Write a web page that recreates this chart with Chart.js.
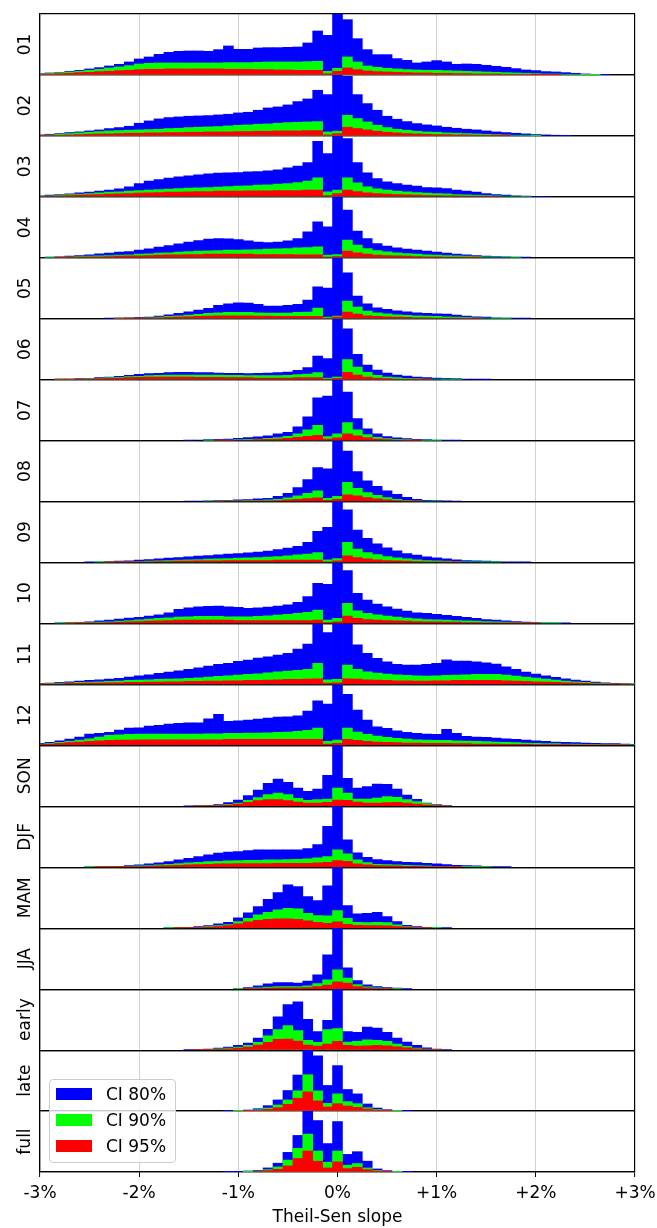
<!DOCTYPE html>
<html lang="en">
<head>
<meta charset="UTF-8">
<title>Theil-Sen slope histograms</title>
<script src="https://cdn.jsdelivr.net/npm/chart.js"></script>
<style>
  body { margin: 0; background: #fff; font-family: "DejaVu Sans", sans-serif; }
  #wrap { position: relative; width: 657px; height: 1228px; }
  #chart { position: absolute; left: 0; top: 0; }
  #legend { position: absolute; left: 49px; top: 1079px; width: 125px; height: 82px;
            background: rgba(255,255,255,0.8); border: 1px solid #cccccc; border-radius: 4px; }
  .patch { position: absolute; left: 6px; width: 36px; height: 12px; }
  .lbl { position: absolute; left: 56px; font-size: 17px; line-height: 20px; color: #000; white-space: nowrap; }
</style>
</head>
<body>
<div id="wrap">
  <canvas id="chart" width="657" height="1228"></canvas>
  <div id="legend"></div>
</div>
<script>
// bin centres (%), tick labels, panel names
const bins = [
  -3.0, -2.9, -2.8, -2.7, -2.6, -2.5, -2.4, -2.3, -2.2, -2.1,
  -2.0, -1.9, -1.8, -1.7, -1.6, -1.5, -1.4, -1.3, -1.2, -1.1,
  -1.0, -0.9, -0.8, -0.7, -0.6, -0.5, -0.4, -0.3, -0.2, -0.1,
  0.0, 0.1, 0.2, 0.3, 0.4, 0.5, 0.6, 0.7, 0.8, 0.9,
  1.0, 1.1, 1.2, 1.3, 1.4, 1.5, 1.6, 1.7, 1.8, 1.9,
  2.0, 2.1, 2.2, 2.3, 2.4, 2.5, 2.6, 2.7, 2.8, 2.9,
  3.0];
const xTickLabels = ['-3%', '-2%', '-1%', '0%', '+1%', '+2%', '+3%'];
const panelNames = ['01', '02', '03', '04', '05', '06', '07', '08', '09', '10', '11', '12',
                    'SON', 'DJF', 'MAM', 'JJA', 'early', 'late', 'full'];
const seriesNames = ['CI 80%', 'CI 90%', 'CI 95%'];
const seriesColors = ['#0000ff', '#00ff00', '#ff0000'];

// counts per bin (b = CI 80%, g = CI 90%, r = CI 95%)
const b01 = [4,6,8,11,14,18,22,27,32,39, 48,54,62,68,71,72,72,71,76,87, 77,77,81,82,82,83,84,96,132,119,
  183,166,109,76,61,61,49,44,36,39, 43,39,32,33,32,29,26,23,19,15, 13,10,9,7,5,3,2,1,0,0, 0];
const g01 = [3,5,7,9,11,14,17,21,24,28, 33,35,36,36,36,36,36,36,36,37, 37,37,38,39,39,39,39,40,41,11,
  20,54,39,27,23,20,18,16,15,14, 14,13,12,11,10,9,8,7,6,5, 4,3,3,2,2,1,1,0,0,0, 0];
const r01 = [2,3,4,5,7,8,10,11,13,14, 16,17,17,18,18,18,18,18,18,17, 17,17,16,16,15,15,14,14,14,4,
  11,21,16,12,10,9,8,7,6,6, 5,5,4,4,3,3,3,2,2,2, 1,1,1,0,0,0,0,0,0,0, 0];

const b02 = [3,5,7,10,12,15,18,22,25,29, 38,45,51,55,57,59,60,61,63,65, 69,71,77,84,87,93,103,111,137,124,
  183,179,124,97,77,59,50,43,37,33, 30,26,23,20,18,15,12,10,8,6, 4,3,2,1,0,0,0,0,0,0, 0];
const g02 = [2,3,5,7,9,11,13,15,16,17, 18,19,20,22,23,25,26,27,28,30, 32,33,35,36,38,40,41,42,43,12,
  14,62,52,42,32,25,20,17,14,12, 11,9,8,7,6,5,4,3,2,2, 1,0,0,0,0,0,0,0,0,0, 0];
const r02 = [1,2,2,3,4,5,6,6,7,8, 8,9,9,10,10,11,11,12,12,12, 13,13,14,14,15,15,15,16,16,3,
  7,26,22,18,14,11,9,7,6,5, 4,4,3,3,2,2,1,1,0,0, 0,0,0,0,0,0,0,0,0,0, 0];

const b03 = [3,5,7,9,12,14,17,20,24,30, 40,47,52,56,60,63,66,69,71,72, 73,75,76,78,81,87,92,103,167,130,
  183,175,103,72,55,45,40,35,32,28, 27,25,20,17,14,10,7,5,3,2, 1,1,0,0,0,0,0,0,0,0, 0];
const g03 = [2,3,5,7,8,10,12,14,15,17, 19,20,22,23,25,26,27,28,29,31, 32,33,35,36,38,40,43,47,57,15,
  20,57,42,30,24,20,17,15,13,11, 10,9,7,6,5,4,3,2,2,1, 0,0,0,0,0,0,0,0,0,0, 0];
const r03 = [1,2,3,4,5,6,7,8,9,10, 11,12,13,14,14,15,16,16,17,17, 17,18,18,18,19,19,19,20,20,4,
  10,20,16,12,10,8,7,6,5,4, 4,3,3,2,2,1,1,0,0,0, 0,0,0,0,0,0,0,0,0,0, 0];

const b04 = [0,1,3,5,7,9,12,14,17,19, 23,27,32,37,42,47,52,56,58,57, 55,51,47,46,47,51,58,78,108,93,
  183,143,80,58,43,35,30,26,23,20, 17,14,11,9,7,5,4,3,2,1, 0,0,0,0,0,0,0,0,0,0, 0];
const g04 = [0,1,2,3,4,5,6,7,8,9, 11,12,14,15,17,19,20,21,22,23, 23,24,25,26,27,28,30,31,33,8,
  10,53,38,28,22,18,15,13,11,9, 8,7,6,5,4,3,2,2,1,0, 0,0,0,0,0,0,0,0,0,0, 0];
const r04 = [0,0,1,1,2,3,3,4,5,6, 6,7,8,9,9,10,10,11,11,11, 11,11,10,10,10,10,9,9,9,2,
  4,20,15,11,8,7,6,5,4,3, 3,2,2,1,1,0,0,0,0,0, 0,0,0,0,0,0,0,0,0,0, 0];

const b05 = [0,0,0,0,0,0,0,1,2,3, 4,5,8,12,16,21,26,31,40,45, 48,47,43,38,38,40,43,56,96,92,
  183,138,68,45,33,28,24,21,18,16, 15,14,11,8,6,5,3,2,1,1, 0,0,0,0,0,0,0,0,0,0, 0];
const g05 = [0,0,0,0,0,0,0,0,1,2, 2,3,5,7,9,11,13,16,18,19, 19,19,18,17,17,17,19,20,32,5,
  8,53,35,23,18,15,12,10,9,8, 7,6,5,4,3,2,1,1,0,0, 0,0,0,0,0,0,0,0,0,0, 0];
const r05 = [0,0,0,0,0,0,0,0,1,1, 1,2,3,4,5,6,7,8,9,9, 9,9,8,8,7,7,7,7,7,2,
  5,20,14,9,7,6,5,4,3,3, 2,2,2,1,1,0,0,0,0,0, 0,0,0,0,0,0,0,0,0,0, 0];

const b06 = [0,0,1,2,3,4,6,8,10,13, 16,18,19,21,22,22,21,21,20,19, 19,18,19,20,21,23,28,36,71,63,
  183,153,76,44,29,20,14,11,8,6, 5,4,3,2,2,1,0,0,0,0, 0,0,0,0,0,0,0,0,0,0, 0];
const g06 = [0,0,1,1,2,3,4,6,7,9, 10,12,13,14,14,14,14,14,14,13, 13,12,12,12,12,13,15,17,21,5,
  8,60,38,22,13,8,6,4,3,2, 2,1,1,0,0,0,0,0,0,0, 0,0,0,0,0,0,0,0,0,0, 0];
const r06 = [0,0,1,1,1,2,3,4,5,6, 7,8,8,8,8,8,7,7,7,6, 6,6,5,5,5,5,6,6,6,2,
  4,22,14,8,5,3,2,2,1,1, 0,0,0,0,0,0,0,0,0,0, 0,0,0,0,0,0,0,0,0,0, 0];

const b07 = [0,0,0,0,0,0,0,0,0,0, 0,0,0,0,0,1,2,3,4,5, 7,9,11,14,20,25,41,71,128,133,
  182,145,66,35,20,12,8,6,4,3, 2,1,1,0,0,0,0,0,0,0, 0,0,0,0,0,0,0,0,0,0, 0];
const g07 = [0,0,0,0,0,0,0,0,0,0, 0,0,0,0,0,0,0,1,2,2, 3,4,5,7,9,13,20,32,46,12,
  20,54,32,18,10,6,4,3,2,1, 1,0,0,0,0,0,0,0,0,0, 0,0,0,0,0,0,0,0,0,0, 0];
const r07 = [0,0,0,0,0,0,0,0,0,0, 0,0,0,0,0,0,0,0,1,1, 2,2,3,4,5,7,10,13,16,5,
  8,20,14,9,5,3,2,1,1,0, 0,0,0,0,0,0,0,0,0,0, 0,0,0,0,0,0,0,0,0,0, 0];

const b08 = [0,0,0,0,0,0,0,0,0,0, 0,0,0,0,0,1,1,2,3,4, 5,6,8,10,16,25,42,66,102,98,
  183,152,90,62,46,32,22,13,7,4, 3,2,1,0,0,0,0,0,0,0, 0,0,0,0,0,0,0,0,0,0, 0];
const g08 = [0,0,0,0,0,0,0,0,0,0, 0,0,0,0,0,0,0,1,1,2, 2,3,4,5,7,11,17,25,32,10,
  16,58,40,27,19,12,7,4,2,1, 1,0,0,0,0,0,0,0,0,0, 0,0,0,0,0,0,0,0,0,0, 0];
const r08 = [0,0,0,0,0,0,0,0,0,0, 0,0,0,0,0,0,0,0,1,1, 1,1,2,2,3,5,7,9,11,4,
  7,20,17,12,8,5,3,2,1,0, 0,0,0,0,0,0,0,0,0,0, 0,0,0,0,0,0,0,0,0,0, 0];

const b09 = [0,0,0,0,0,1,2,3,4,5, 7,9,11,13,15,17,19,21,23,25, 27,29,31,34,39,43,48,60,93,105,
  182,157,97,72,56,44,35,27,22,17, 14,11,8,6,5,4,3,2,1,1, 0,0,0,0,0,0,0,0,0,0, 0];
const g09 = [0,0,0,0,0,0,1,1,2,2, 3,4,5,6,7,8,9,10,11,12, 13,14,15,16,18,20,23,25,30,8,
  12,60,40,30,24,18,14,11,8,6, 5,4,3,2,2,1,1,0,0,0, 0,0,0,0,0,0,0,0,0,0, 0];
const r09 = [0,0,0,0,0,0,0,1,1,1, 2,2,3,3,4,4,5,5,5,6, 6,6,6,6,7,7,7,7,7,2,
  5,20,15,11,8,6,5,4,3,2, 2,1,1,0,0,0,0,0,0,0, 0,0,0,0,0,0,0,0,0,0, 0];

const b10 = [0,0,1,2,3,5,8,10,13,16, 18,22,26,32,42,47,50,51,52,50, 48,45,47,49,52,56,63,80,120,117,
  182,158,90,70,58,50,43,37,32,30, 27,24,21,18,15,12,10,8,6,4, 3,2,1,1,0,0,0,0,0,0, 0];
const g10 = [0,0,1,1,2,3,4,5,7,9, 11,13,15,17,19,20,21,21,21,20, 20,20,21,23,25,27,30,33,40,10,
  15,60,38,30,26,22,19,16,14,12, 11,10,9,8,7,6,5,4,3,2, 2,1,1,0,0,0,0,0,0,0, 0];
const r10 = [0,0,0,1,1,2,2,3,4,5, 6,7,8,9,10,10,10,10,10,10, 9,9,9,9,9,9,9,9,10,3,
  5,22,15,12,10,9,8,7,6,5, 5,4,4,3,3,2,2,2,1,1, 1,0,0,0,0,0,0,0,0,0, 0];

const b11 = [3,4,6,8,10,12,14,16,18,22, 26,29,33,37,41,45,50,55,60,63, 69,73,79,83,88,93,106,121,181,156,
  183,181,119,93,78,68,60,58,58,60, 63,74,70,70,68,65,61,53,45,37, 31,26,21,17,13,10,7,5,3,2, 1];
const g11 = [2,3,4,5,6,7,8,9,10,12, 13,14,15,16,17,18,20,22,24,26, 28,30,32,35,38,40,42,45,63,14,
  15,58,45,38,34,31,29,27,26,25, 26,27,28,29,30,30,30,28,25,22, 19,16,13,10,8,6,4,3,2,1, 1];
const r11 = [1,2,2,3,3,4,4,5,5,6, 6,7,7,8,8,9,9,10,10,11, 11,12,12,13,14,15,15,16,17,4,
  5,17,16,14,13,12,11,11,10,10, 11,11,12,12,12,12,12,11,10,9, 8,7,6,5,4,3,2,2,1,1, 0];

const b12 = [6,9,14,19,25,34,36,39,46,52, 53,58,60,64,66,68,68,80,93,72, 74,76,79,82,85,86,89,103,134,124,
  183,153,106,76,56,51,44,39,36,34, 33,48,36,27,25,24,22,20,18,16, 14,12,10,9,8,7,6,5,5,4, 3];
const g12 = [4,6,9,12,16,20,25,30,32,33, 34,34,34,34,34,34,34,35,35,36, 36,37,37,38,39,40,42,45,52,12,
  16,52,40,33,28,24,21,19,17,16, 15,15,14,13,12,11,10,9,8,7, 6,5,5,4,4,3,3,2,2,2, 1];
const r12 = [3,4,6,8,10,12,14,15,16,16, 17,17,17,17,17,17,17,17,17,18, 18,18,18,18,18,18,18,18,18,4,
  6,18,15,12,10,9,8,7,7,6, 6,6,5,5,4,4,4,3,3,3, 2,2,2,2,1,1,1,1,1,1, 0];

const bSON = [0,0,0,0,0,0,0,0,0,0, 0,0,0,0,0,1,2,3,5,11, 19,32,49,69,82,72,55,45,52,93,
  183,84,55,59,67,66,52,34,21,10, 5,2,0,0,0,0,0,0,0,0, 0,0,0,0,0,0,0,0,0,0, 0];
const gSON = [0,0,0,0,0,0,0,0,0,0, 0,0,0,0,0,0,1,2,3,6, 10,18,26,35,40,35,24,18,20,22,
  55,40,22,22,25,29,27,20,14,8, 4,1,0,0,0,0,0,0,0,0, 0,0,0,0,0,0,0,0,0,0, 0];
const rSON = [0,0,0,0,0,0,0,0,0,0, 0,0,0,0,0,0,1,1,2,4, 7,12,17,20,20,17,13,10,10,12,
  19,18,13,10,10,11,12,10,7,4, 2,1,0,0,0,0,0,0,0,0, 0,0,0,0,0,0,0,0,0,0, 0];

const bDJF = [0,0,0,0,0,1,1,2,3,5, 7,10,13,17,22,27,32,37,42,45, 47,50,52,52,52,52,52,56,68,122,
  182,82,43,30,23,20,17,15,14,12, 10,8,6,5,4,3,2,1,0,0, 0,0,0,0,0,0,0,0,0,0, 0];
const gDJF = [0,0,0,0,0,1,1,1,2,3, 4,5,7,9,11,13,15,17,18,19, 20,21,21,22,22,23,24,25,28,32,
  52,40,22,14,9,8,7,6,5,4, 3,3,2,2,1,1,0,0,0,0, 0,0,0,0,0,0,0,0,0,0, 0];
const rDJF = [0,0,0,0,0,0,1,1,1,2, 2,3,4,5,6,7,8,9,10,10, 11,11,11,11,12,12,12,12,13,15,
  20,18,10,7,5,4,4,3,3,2, 2,1,1,0,0,0,0,0,0,0, 0,0,0,0,0,0,0,0,0,0, 0];

const bMAM = [0,0,0,0,0,0,0,0,0,0, 0,0,0,1,2,3,5,8,13,18, 31,46,65,87,107,130,125,95,83,127,
  183,68,43,45,48,35,20,9,5,3, 2,1,0,0,0,0,0,0,0,0, 0,0,0,0,0,0,0,0,0,0, 0];
const gMAM = [0,0,0,0,0,0,0,0,0,0, 0,0,0,1,1,2,3,5,8,11, 20,30,40,48,55,60,58,45,38,37,
  53,30,18,17,18,17,10,5,3,1, 1,0,0,0,0,0,0,0,0,0, 0,0,0,0,0,0,0,0,0,0, 0];
const rMAM = [0,0,0,0,0,0,0,0,0,0, 0,0,0,0,1,1,2,3,5,8, 13,19,24,27,28,28,27,22,18,15,
  19,12,9,8,8,7,5,3,2,1, 0,0,0,0,0,0,0,0,0,0, 0,0,0,0,0,0,0,0,0,0, 0];

const bJJA = [0,0,0,0,0,0,0,0,0,0, 0,0,0,0,0,0,0,0,0,0, 2,5,10,16,20,20,18,24,43,103,
  183,64,26,13,8,5,3,1,0,0, 0,0,0,0,0,0,0,0,0,0, 0,0,0,0,0,0,0,0,0,0, 0];
const gJJA = [0,0,0,0,0,0,0,0,0,0, 0,0,0,0,0,0,0,0,0,0, 1,2,4,6,8,8,8,10,17,28,
  58,33,14,7,4,2,1,0,0,0, 0,0,0,0,0,0,0,0,0,0, 0,0,0,0,0,0,0,0,0,0, 0];
const rJJA = [0,0,0,0,0,0,0,0,0,0, 0,0,0,0,0,0,0,0,0,0, 0,1,2,3,4,4,4,5,8,12,
  22,18,8,4,2,1,0,0,0,0, 0,0,0,0,0,0,0,0,0,0, 0,0,0,0,0,0,0,0,0,0, 0];

const bEarly = [0,0,0,0,0,0,0,0,0,0, 0,0,0,0,0,1,2,3,6,9, 14,21,36,62,99,136,144,92,55,89,
  182,55,53,69,66,53,36,24,14,7, 3,1,0,0,0,0,0,0,0,0, 0,0,0,0,0,0,0,0,0,0, 0];
const gEarly = [0,0,0,0,0,0,0,0,0,0, 0,0,0,0,0,0,1,2,4,6, 9,14,23,43,61,73,58,29,23,61,
  64,24,26,31,29,26,18,11,6,3, 1,0,0,0,0,0,0,0,0,0, 0,0,0,0,0,0,0,0,0,0, 0];
const rEarly = [0,0,0,0,0,0,0,0,0,0, 0,0,0,0,0,0,1,1,2,4, 6,9,15,23,32,33,27,15,12,18,
  26,14,12,13,14,13,10,7,4,2, 1,0,0,0,0,0,0,0,0,0, 0,0,0,0,0,0,0,0,0,0, 0];

const bLate = [0,0,0,0,0,0,0,0,0,0, 0,0,0,0,0,0,0,0,0,1, 2,3,7,16,33,61,107,181,164,76,
  135,64,51,21,9,4,2,1,0,0, 0,0,0,0,0,0,0,0,0,0, 0,0,0,0,0,0,0,0,0,0, 0];
const gLate = [0,0,0,0,0,0,0,0,0,0, 0,0,0,0,0,0,0,0,0,0, 1,2,4,9,18,33,60,108,60,23,
  51,28,22,10,5,2,1,0,0,0, 0,0,0,0,0,0,0,0,0,0, 0,0,0,0,0,0,0,0,0,0, 0];
const rLate = [0,0,0,0,0,0,0,0,0,0, 0,0,0,0,0,0,0,0,0,0, 0,1,2,5,10,20,38,57,30,12,
  22,15,11,6,3,1,0,0,0,0, 0,0,0,0,0,0,0,0,0,0, 0,0,0,0,0,0,0,0,0,0, 0];

const bFull = [0,0,0,0,0,0,0,0,0,0, 0,0,0,0,0,0,0,0,0,1, 2,3,5,12,26,58,108,180,152,84,
  149,52,60,32,9,4,2,1,0,0, 0,0,0,0,0,0,0,0,0,0, 0,0,0,0,0,0,0,0,0,0, 0];
const gFull = [0,0,0,0,0,0,0,0,0,0, 0,0,0,0,0,0,0,0,0,0, 0,1,3,7,15,35,70,112,62,29,
  62,20,25,12,5,2,1,0,0,0, 0,0,0,0,0,0,0,0,0,0, 0,0,0,0,0,0,0,0,0,0, 0];
const rFull = [0,0,0,0,0,0,0,0,0,0, 0,0,0,0,0,0,0,0,0,0, 0,0,2,4,8,18,40,62,32,12,
  30,10,14,7,3,1,0,0,0,0, 0,0,0,0,0,0,0,0,0,0, 0,0,0,0,0,0,0,0,0,0, 0];

const ci80 = [b01, b02, b03, b04, b05, b06, b07, b08, b09, b10, b11, b12, bSON, bDJF, bMAM, bJJA, bEarly, bLate, bFull];
const ci90 = [g01, g02, g03, g04, g05, g06, g07, g08, g09, g10, g11, g12, gSON, gDJF, gMAM, gJJA, gEarly, gLate, gFull];
const ci95 = [r01, r02, r03, r04, r05, r06, r07, r08, r09, r10, r11, r12, rSON, rDJF, rMAM, rJJA, rEarly, rLate, rFull];

Chart.defaults.font.family = 'DejaVu Sans';
Chart.defaults.font.size = 17;
Chart.defaults.color = '#000';

const scales = {
  x: {
    type: 'linear', min: -3, max: 3, offset: false, z: 1,
    afterFit: function (s) { s.height = 56; s.paddingLeft = 0; s.paddingRight = 0; },
    ticks: {
      stepSize: 1, padding: 6, maxRotation: 0, autoSkip: false,
      callback: function (v) { return xTickLabels[Math.round(v) + 3]; }
    },
    grid: {
      offset: false,
      color: function (c) { return (c.tick && Math.abs(c.tick.value) === 3) ? '#000' : 'rgba(128,128,128,0.45)'; },
      lineWidth: function (c) { return (c.tick && Math.abs(c.tick.value) === 3) ? 1.2 : 0.8; },
      tickColor: '#000', tickLength: 5, tickWidth: 1
    },
    border: { display: true, color: '#000', width: 1.2 },
    title: { display: true, text: 'Theil-Sen slope', padding: { top: 0, bottom: 0 } }
  }
};

const datasets = [];
panelNames.forEach(function (name, i) {
  const id = 'y' + i;
  const top = Math.max.apply(null, ci80[i]);
  scales[id] = {
    type: 'linear', position: 'left', stack: 'panels', stackWeight: 1,
    weight: panelNames.length - i,
    min: 0, max: top, z: 1,
    afterFit: function (s) { s.width = 40; },
    afterBuildTicks: function (s) { s.ticks = [{ value: 0 }, { value: top }]; },
    ticks: { display: false },
    grid: { color: '#000', lineWidth: 1.2, drawTicks: false },
    border: { display: true, color: '#000', width: 1.2 },
    title: { display: true, text: name, padding: { top: 15, bottom: 0 } }
  };
  [ci80, ci90, ci95].forEach(function (series, j) {
    datasets.push({
      label: seriesNames[j],
      // empty bins are left out so no hairline is drawn on the baseline
      data: series[i].map(function (v) { return v > 0 ? v : null; }),
      yAxisID: id,
      backgroundColor: seriesColors[j],
      order: 3 - j
    });
  });
});

new Chart(document.getElementById('chart'), {
  type: 'bar',
  data: { labels: bins, datasets: datasets },
  options: {
    responsive: false,
    animation: false,
    devicePixelRatio: 1,
    layout: { padding: { top: 14, right: 22, bottom: 0, left: 0 } },
    datasets: { bar: { barPercentage: 1, categoryPercentage: 1, grouped: false, borderWidth: 0 } },
    plugins: { legend: { display: false }, tooltip: { enabled: false } },
    scales: scales
  }
});

// legend box drawn as html
const legend = document.getElementById('legend');
const patchTops = [8, 34, 60];
seriesNames.forEach(function (name, j) {
  const p = document.createElement('div');
  p.className = 'patch';
  p.style.top = patchTops[j] + 'px';
  p.style.background = seriesColors[j];
  legend.appendChild(p);
  const t = document.createElement('div');
  t.className = 'lbl';
  t.style.top = (patchTops[j] - 4) + 'px';
  t.textContent = name;
  legend.appendChild(t);
});
</script>
</body>
</html>
